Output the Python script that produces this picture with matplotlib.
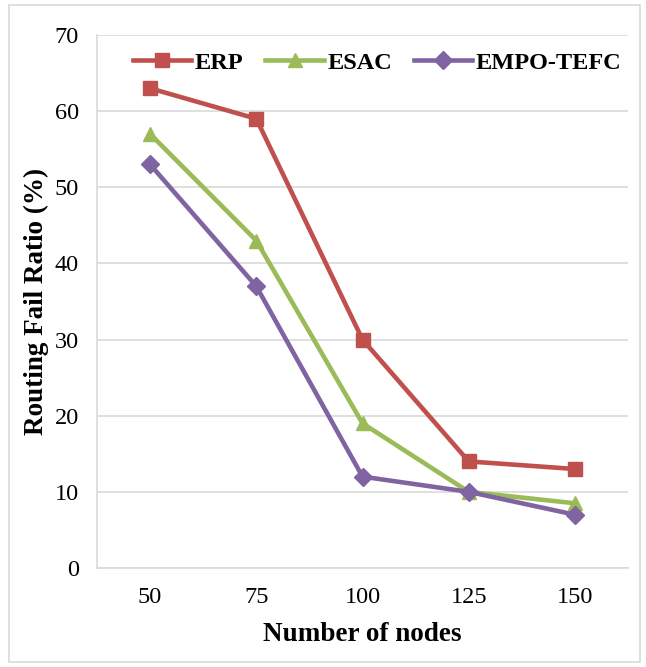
import matplotlib.pyplot as plt
from matplotlib.patches import Rectangle
import numpy as np

nodes = ['50', '75', '100', '125', '150']
erp = [63, 59, 30, 14, 13]
esac = [57, 43, 19, 10, 8.5]
empo = [53, 37, 12, 10, 7]

plt.rcParams['font.family'] = 'Liberation Serif'

fig = plt.figure(figsize=(6.46, 6.67), dpi=100)
ax = fig.add_axes([97 / 646, 1 - 568 / 667, 531 / 646, 533 / 667])

x = np.arange(len(nodes))
ax.plot(x, erp, color='#C0504D', lw=3.3, marker='s', ms=9.5, label='ERP')
ax.plot(x, esac, color='#9BBB59', lw=3.3, marker='^', ms=10.5, label='ESAC')
ax.plot(x, empo, color='#8064A2', lw=3.3, marker='D', ms=9.5, label='EMPO-TEFC')

ax.set_xlim(-0.5, 4.5)
ax.set_ylim(0, 70)
ax.set_yticks(range(0, 71, 10))
ax.set_xticks(x)
ax.set_xticklabels(nodes)
ax.yaxis.grid(True, color='#D9D9D9', lw=1.2)
ax.set_axisbelow(True)
for s in ['top', 'right']:
    ax.spines[s].set_visible(False)
for s in ['left', 'bottom']:
    ax.spines[s].set_color('#D9D9D9')
    ax.spines[s].set_linewidth(1.2)
ax.tick_params(length=0, labelsize=17.5, pad=13)
ax.tick_params(axis='x', pad=14)

ax.set_xlabel('Number of nodes', fontsize=19.5, fontweight='bold', labelpad=10)
ax.set_ylabel('Routing Fail Ratio (%)', fontsize=19.5, fontweight='bold', labelpad=4)

ax.legend(loc='upper center', bbox_to_anchor=(0.528, 1.01), ncol=3, frameon=False,
          prop={'size': 17.5, 'weight': 'bold'}, handlelength=2.4, handletextpad=0.15,
          columnspacing=0.9)

fig.patches.append(Rectangle((9 / 646, 5 / 667), 631 / 646, 657 / 667,
                             transform=fig.transFigure, fill=False,
                             edgecolor='#D9D9D9', lw=1.2))

fig.savefig('out.png', dpi=100)
